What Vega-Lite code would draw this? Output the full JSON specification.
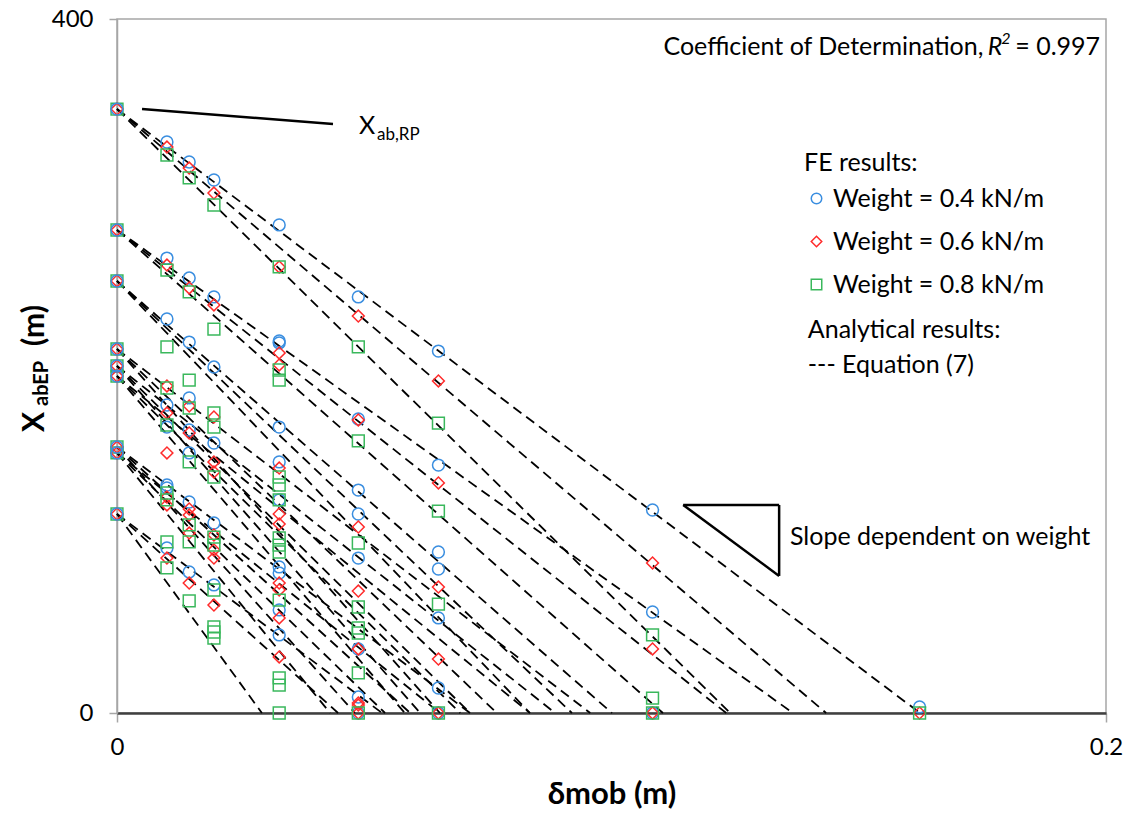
{
"$schema":"https://vega.github.io/schema/vega-lite/v6.json",
"width":989,"height":694,
"autosize":{"type":"none"},
"padding":{"left":117,"top":19,"right":25,"bottom":100},
"config":{"font":"Lato","view":{"stroke":"#a6a6a6","strokeWidth":1.5},"text":{"font":"Lato","color":"black"}},
"datasets":{
"lines":[
{"id":"A1","x":0,"y":348.1},{"id":"A1","x":0.1624,"y":0},
{"id":"A2","x":0,"y":348.1},{"id":"A2","x":0.1434,"y":0},
{"id":"A3","x":0,"y":348.1},{"id":"A3","x":0.1240,"y":0},
{"id":"B1","x":0,"y":278.4},{"id":"B1","x":0.1367,"y":0},
{"id":"B2","x":0,"y":278.4},{"id":"B2","x":0.1232,"y":0},
{"id":"B3","x":0,"y":278.4},{"id":"B3","x":0.1104,"y":0},
{"id":"C1","x":0,"y":249.0},{"id":"C1","x":0.1001,"y":0},
{"id":"C2","x":0,"y":249.0},{"id":"C2","x":0.0920,"y":0},
{"id":"C3","x":0,"y":249.0},{"id":"C3","x":0.0835,"y":0},
{"id":"D1","x":0,"y":209.8},{"id":"D1","x":0.0957,"y":0},
{"id":"D2","x":0,"y":209.8},{"id":"D2","x":0.0768,"y":0},
{"id":"D3","x":0,"y":209.8},{"id":"D3","x":0.0653,"y":0},
{"id":"E1","x":0,"y":200.0},{"id":"E1","x":0.0886,"y":0},
{"id":"E2","x":0,"y":200.0},{"id":"E2","x":0.0714,"y":0},
{"id":"E3","x":0,"y":200.0},{"id":"E3","x":0.0613,"y":0},
{"id":"F1","x":0,"y":194.2},{"id":"F1","x":0.0835,"y":0},
{"id":"F2","x":0,"y":194.2},{"id":"F2","x":0.0694,"y":0},
{"id":"F3","x":0,"y":194.2},{"id":"F3","x":0.0582,"y":0},
{"id":"G1","x":0,"y":153.3},{"id":"G1","x":0.0714,"y":0},
{"id":"G2","x":0,"y":153.3},{"id":"G2","x":0.0593,"y":0},
{"id":"G3","x":0,"y":153.3},{"id":"G3","x":0.0481,"y":0},
{"id":"H1","x":0,"y":149.9},{"id":"H1","x":0.0653,"y":0},
{"id":"H2","x":0,"y":149.9},{"id":"H2","x":0.0542,"y":0},
{"id":"H3","x":0,"y":149.9},{"id":"H3","x":0.0431,"y":0},
{"id":"I1","x":0,"y":114.7},{"id":"I1","x":0.0536,"y":0},
{"id":"I2","x":0,"y":114.7},{"id":"I2","x":0.0447,"y":0},
{"id":"I3","x":0,"y":114.7},{"id":"I3","x":0.0293,"y":0}
],
"points":[
{"x":0,"y":348.1,"w":"0.8"},{"x":0,"y":278.4,"w":"0.8"},{"x":0,"y":249.0,"w":"0.8"},{"x":0,"y":209.8,"w":"0.8"},{"x":0,"y":200.0,"w":"0.8"},{"x":0,"y":194.2,"w":"0.8"},{"x":0,"y":153.3,"w":"0.8"},{"x":0,"y":149.9,"w":"0.8"},{"x":0,"y":114.7,"w":"0.8"},
{"x":0,"y":348.1,"w":"0.6"},{"x":0,"y":278.4,"w":"0.6"},{"x":0,"y":249.0,"w":"0.6"},{"x":0,"y":209.8,"w":"0.6"},{"x":0,"y":200.0,"w":"0.6"},{"x":0,"y":194.2,"w":"0.6"},{"x":0,"y":153.3,"w":"0.6"},{"x":0,"y":149.9,"w":"0.6"},{"x":0,"y":114.7,"w":"0.6"},
{"x":0,"y":348.1,"w":"0.4"},{"x":0,"y":278.4,"w":"0.4"},{"x":0,"y":249.0,"w":"0.4"},{"x":0,"y":209.8,"w":"0.4"},{"x":0,"y":200.0,"w":"0.4"},{"x":0,"y":194.2,"w":"0.4"},{"x":0,"y":153.3,"w":"0.4"},{"x":0,"y":149.9,"w":"0.4"},{"x":0,"y":114.7,"w":"0.4"},
{"x":0.0101,"y":329.1,"w":"0.4"},{"x":0.0101,"y":262.2,"w":"0.4"},{"x":0.0101,"y":227.1,"w":"0.4"},{"x":0.0101,"y":177.5,"w":"0.4"},{"x":0.0101,"y":164.8,"w":"0.4"},{"x":0.0101,"y":131.4,"w":"0.4"},{"x":0.0101,"y":129.7,"w":"0.4"},{"x":0.0101,"y":95.1,"w":"0.4"},
{"x":0.0101,"y":326.2,"w":"0.6"},{"x":0.0101,"y":258.2,"w":"0.6"},{"x":0.0101,"y":188.5,"w":"0.6"},{"x":0.0101,"y":172.9,"w":"0.6"},{"x":0.0101,"y":149.9,"w":"0.6"},{"x":0.0101,"y":124.5,"w":"0.6"},{"x":0.0101,"y":119.9,"w":"0.6"},{"x":0.0101,"y":89.3,"w":"0.6"},
{"x":0.0101,"y":321.6,"w":"0.8"},{"x":0.0101,"y":255.3,"w":"0.8"},{"x":0.0101,"y":211.0,"w":"0.8"},{"x":0.0101,"y":187.3,"w":"0.8"},{"x":0.0101,"y":166.0,"w":"0.8"},{"x":0.0101,"y":126.8,"w":"0.8"},{"x":0.0101,"y":122.8,"w":"0.8"},{"x":0.0101,"y":98.6,"w":"0.8"},{"x":0.0101,"y":83.6,"w":"0.8"},
{"x":0.0146,"y":317.6,"w":"0.4"},{"x":0.0146,"y":250.7,"w":"0.4"},{"x":0.0146,"y":213.8,"w":"0.4"},{"x":0.0146,"y":181.6,"w":"0.4"},{"x":0.0146,"y":163.1,"w":"0.4"},{"x":0.0146,"y":149.9,"w":"0.4"},{"x":0.0146,"y":121.6,"w":"0.4"},{"x":0.0146,"y":81.3,"w":"0.4"},
{"x":0.0146,"y":314.1,"w":"0.6"},{"x":0.0146,"y":245.0,"w":"0.6"},{"x":0.0146,"y":176.9,"w":"0.6"},{"x":0.0146,"y":161.4,"w":"0.6"},{"x":0.0146,"y":117.6,"w":"0.6"},{"x":0.0146,"y":114.1,"w":"0.6"},{"x":0.0146,"y":103.7,"w":"0.6"},{"x":0.0146,"y":74.9,"w":"0.6"},
{"x":0.0146,"y":308.4,"w":"0.8"},{"x":0.0146,"y":242.7,"w":"0.8"},{"x":0.0146,"y":191.9,"w":"0.8"},{"x":0.0146,"y":175.8,"w":"0.8"},{"x":0.0146,"y":144.7,"w":"0.8"},{"x":0.0146,"y":108.4,"w":"0.8"},{"x":0.0146,"y":98.6,"w":"0.8"},{"x":0.0146,"y":64.6,"w":"0.8"},
{"x":0.0196,"y":307.2,"w":"0.4"},{"x":0.0196,"y":239.8,"w":"0.4"},{"x":0.0196,"y":199.4,"w":"0.4"},{"x":0.0196,"y":155.6,"w":"0.4"},{"x":0.0196,"y":109.5,"w":"0.4"},{"x":0.0196,"y":73.8,"w":"0.4"},
{"x":0.0196,"y":299.7,"w":"0.6"},{"x":0.0196,"y":235.2,"w":"0.6"},{"x":0.0196,"y":170.6,"w":"0.6"},{"x":0.0196,"y":144.7,"w":"0.6"},{"x":0.0196,"y":138.9,"w":"0.6"},{"x":0.0196,"y":102.6,"w":"0.6"},{"x":0.0196,"y":94.0,"w":"0.6"},{"x":0.0196,"y":89.3,"w":"0.6"},{"x":0.0196,"y":62.2,"w":"0.6"},
{"x":0.0196,"y":292.8,"w":"0.8"},{"x":0.0196,"y":221.3,"w":"0.8"},{"x":0.0196,"y":172.9,"w":"0.8"},{"x":0.0196,"y":164.8,"w":"0.8"},{"x":0.0196,"y":136.0,"w":"0.8"},{"x":0.0196,"y":101.4,"w":"0.8"},{"x":0.0196,"y":96.8,"w":"0.8"},{"x":0.0196,"y":70.9,"w":"0.8"},{"x":0.0196,"y":49.6,"w":"0.8"},{"x":0.0196,"y":46.7,"w":"0.8"},{"x":0.0196,"y":43.2,"w":"0.8"},
{"x":0.0328,"y":281.3,"w":"0.4"},{"x":0.0328,"y":214.4,"w":"0.4"},{"x":0.0328,"y":213.3,"w":"0.4"},{"x":0.0328,"y":164.8,"w":"0.4"},{"x":0.0328,"y":144.7,"w":"0.4"},{"x":0.0328,"y":122.8,"w":"0.4"},{"x":0.0328,"y":84.2,"w":"0.4"},{"x":0.0328,"y":80.7,"w":"0.4"},{"x":0.0328,"y":59.4,"w":"0.4"},{"x":0.0328,"y":45.0,"w":"0.4"},
{"x":0.0328,"y":257.1,"w":"0.6"},{"x":0.0328,"y":207.5,"w":"0.6"},{"x":0.0328,"y":200.6,"w":"0.6"},{"x":0.0328,"y":141.2,"w":"0.6"},{"x":0.0328,"y":114.7,"w":"0.6"},{"x":0.0328,"y":108.9,"w":"0.6"},{"x":0.0328,"y":74.9,"w":"0.6"},{"x":0.0328,"y":70.9,"w":"0.6"},{"x":0.0328,"y":54.8,"w":"0.6"},{"x":0.0328,"y":32.3,"w":"0.6"},
{"x":0.0328,"y":257.1,"w":"0.8"},{"x":0.0328,"y":197.7,"w":"0.8"},{"x":0.0328,"y":191.9,"w":"0.8"},{"x":0.0328,"y":136.0,"w":"0.8"},{"x":0.0328,"y":131.4,"w":"0.8"},{"x":0.0328,"y":122.8,"w":"0.8"},{"x":0.0328,"y":100.9,"w":"0.8"},{"x":0.0328,"y":96.8,"w":"0.8"},{"x":0.0328,"y":92.8,"w":"0.8"},{"x":0.0328,"y":65.1,"w":"0.8"},{"x":0.0328,"y":20.2,"w":"0.8"},{"x":0.0328,"y":16.1,"w":"0.8"},{"x":0.0328,"y":0,"w":"0.8"},
{"x":0.0488,"y":239.8,"w":"0.4"},{"x":0.0488,"y":169.5,"w":"0.4"},{"x":0.0488,"y":128.5,"w":"0.4"},{"x":0.0488,"y":114.7,"w":"0.4"},{"x":0.0488,"y":89.3,"w":"0.4"},{"x":0.0488,"y":36.9,"w":"0.4"},{"x":0.0488,"y":9.2,"w":"0.4"},{"x":0.0488,"y":0,"w":"0.4"},
{"x":0.0488,"y":228.8,"w":"0.6"},{"x":0.0488,"y":168.9,"w":"0.6"},{"x":0.0488,"y":107.2,"w":"0.6"},{"x":0.0488,"y":70.3,"w":"0.6"},{"x":0.0488,"y":36.9,"w":"0.6"},{"x":0.0488,"y":5.8,"w":"0.6"},{"x":0.0488,"y":4.6,"w":"0.6"},{"x":0.0488,"y":0,"w":"0.6"},
{"x":0.0488,"y":211.0,"w":"0.8"},{"x":0.0488,"y":156.8,"w":"0.8"},{"x":0.0488,"y":98.0,"w":"0.8"},{"x":0.0488,"y":61.1,"w":"0.8"},{"x":0.0488,"y":49.0,"w":"0.8"},{"x":0.0488,"y":46.1,"w":"0.8"},{"x":0.0488,"y":23.1,"w":"0.8"},{"x":0.0488,"y":0,"w":"0.8"},
{"x":0.065,"y":208.6,"w":"0.4"},{"x":0.065,"y":142.9,"w":"0.4"},{"x":0.065,"y":92.8,"w":"0.4"},{"x":0.065,"y":83.0,"w":"0.4"},{"x":0.065,"y":54.8,"w":"0.4"},{"x":0.065,"y":14.4,"w":"0.4"},{"x":0.065,"y":0,"w":"0.4"},
{"x":0.065,"y":191.4,"w":"0.6"},{"x":0.065,"y":132.6,"w":"0.6"},{"x":0.065,"y":72.6,"w":"0.6"},{"x":0.065,"y":31.1,"w":"0.6"},{"x":0.065,"y":0,"w":"0.6"},
{"x":0.065,"y":167.1,"w":"0.8"},{"x":0.065,"y":116.4,"w":"0.8"},{"x":0.065,"y":62.8,"w":"0.8"},{"x":0.065,"y":0,"w":"0.8"},
{"x":0.1083,"y":117.0,"w":"0.4"},{"x":0.1083,"y":58.2,"w":"0.4"},{"x":0.1083,"y":0,"w":"0.4"},
{"x":0.1083,"y":86.5,"w":"0.6"},{"x":0.1083,"y":36.9,"w":"0.6"},{"x":0.1083,"y":0,"w":"0.6"},
{"x":0.1083,"y":45.0,"w":"0.8"},{"x":0.1083,"y":8.6,"w":"0.8"},{"x":0.1083,"y":0,"w":"0.8"},
{"x":0.1623,"y":3.5,"w":"0.4"},{"x":0.1623,"y":0,"w":"0.6"},{"x":0.1623,"y":0,"w":"0.8"}
]},
"layer":[
{"data":{"name":"lines"},
 "mark":{"type":"line","color":"black","strokeWidth":1.8,"strokeDash":[10,6]},
 "encoding":{
  "x":{"field":"x","type":"quantitative","scale":{"domain":[0,0.2],"nice":false,"zero":false},
   "axis":{"values":[0,0.2],"labelExpr":"datum.value == 0 ? '0' : '0.2'","grid":false,"domainColor":"#404040","domainWidth":2.5,"tickColor":"#a6a6a6","tickWidth":1.5,"tickSize":9,"labelFontSize":24,"labelColor":"black","labelPadding":13,"labelFlush":false,"title":"δmob (m)","titleFontSize":31,"titleFontWeight":"bold","titleColor":"black","titlePadding":20}},
  "y":{"field":"y","type":"quantitative","scale":{"domain":[0,400],"nice":false},
   "axis":{"values":[0,400],"grid":false,"domainColor":"#a6a6a6","domainWidth":1.5,"tickColor":"#a6a6a6","tickWidth":1.5,"tickSize":8,"labelFontSize":24,"labelColor":"black","labelPadding":16,"labelFlush":false,"title":null}},
  "detail":{"field":"id"}}},
{"data":{"name":"points"},
 "mark":{"type":"point","filled":false,"strokeWidth":1.5,"size":140,"opacity":1},
 "encoding":{
  "x":{"field":"x","type":"quantitative"},
  "y":{"field":"y","type":"quantitative"},
  "color":{"field":"w","type":"nominal","scale":{"domain":["0.4","0.6","0.8"],"range":["#3a8ee0","#ff2b2b","#3ab85c"]},
   "legend":{"title":"FE results:","orient":"none","legendX":687,"legendY":132,"labelExpr":"'Weight = ' + datum.label + ' kN/m'","labelLimit":0,"titleLimit":0,"titleFontSize":25,"titleFontWeight":"normal","titleColor":"black","titleFont":"Lato","labelFontSize":25,"labelFont":"Lato","labelColor":"black","titlePadding":10,"rowPadding":17,"symbolSize":110,"symbolStrokeWidth":1.5,"labelOffset":4}},
  "shape":{"field":"w","type":"nominal","scale":{"domain":["0.4","0.6","0.8"],"range":["circle","diamond","square"]},
   "legend":{"title":"FE results:","orient":"none","legendX":687,"legendY":132,"labelExpr":"'Weight = ' + datum.label + ' kN/m'","labelLimit":0,"titleLimit":0,"titleFontSize":25,"titleFontWeight":"normal","titleColor":"black","titleFont":"Lato","labelFontSize":25,"labelFont":"Lato","labelColor":"black","titlePadding":10,"rowPadding":17,"symbolSize":110,"symbolStrokeWidth":1.5,"labelOffset":4}}}},
{"data":{"values":[{}]},"mark":{"type":"rule","color":"black","strokeWidth":2.5},
 "encoding":{"x":{"datum":0.00506},"y":{"datum":348.1},"x2":{"datum":0.04368},"y2":{"datum":339.5}}},
{"data":{"values":[{}]},"mark":{"type":"rule","color":"black","strokeWidth":2.5},
 "encoding":{"x":{"datum":0.1145},"y":{"datum":119.9},"x2":{"datum":0.1339},"y2":{"datum":119.9}}},
{"data":{"values":[{}]},"mark":{"type":"rule","color":"black","strokeWidth":2.5},
 "encoding":{"x":{"datum":0.1339},"y":{"datum":119.9},"x2":{"datum":0.1339},"y2":{"datum":79.0}}},
{"data":{"values":[{}]},"mark":{"type":"rule","color":"black","strokeWidth":2.5},
 "encoding":{"x":{"datum":0.1145},"y":{"datum":119.9},"x2":{"datum":0.1339},"y2":{"datum":79.0}}},
{"data":{"values":[{}]},"mark":{"type":"text","text":"X","fontSize":25,"align":"left","baseline":"middle"},
 "encoding":{"x":{"datum":0.04894},"y":{"datum":338.3}}},
{"data":{"values":[{}]},"mark":{"type":"text","text":"ab,RP","fontSize":17,"align":"left","baseline":"middle"},
 "encoding":{"x":{"datum":0.05258},"y":{"datum":333.4}}},
{"data":{"values":[{}]},"mark":{"type":"text","text":"Slope dependent on weight","fontSize":25,"align":"left","baseline":"middle"},
 "encoding":{"x":{"datum":0.1361},"y":{"datum":101.4}}},
{"data":{"values":[{}]},"mark":{"type":"text","text":"Coefficient of Determination,","fontSize":25,"align":"right","baseline":"middle"},
 "encoding":{"x":{"datum":0.1752},"y":{"datum":383.9}}},
{"data":{"values":[{}]},"mark":{"type":"text","text":"R","fontSize":25,"fontStyle":"italic","align":"left","baseline":"middle"},
 "encoding":{"x":{"datum":0.1761},"y":{"datum":383.9}}},
{"data":{"values":[{}]},"mark":{"type":"text","text":"2","fontSize":16,"fontStyle":"italic","align":"left","baseline":"middle"},
 "encoding":{"x":{"datum":0.1788},"y":{"datum":388.2}}},
{"data":{"values":[{}]},"mark":{"type":"text","text":"= 0.997","fontSize":25,"align":"right","baseline":"middle"},
 "encoding":{"x":{"datum":0.1988},"y":{"datum":383.9}}},
{"data":{"values":[{}]},"mark":{"type":"text","text":"Analytical results:","fontSize":25,"align":"left","baseline":"middle"},
 "encoding":{"x":{"datum":0.1397},"y":{"datum":220.8}}},
{"data":{"values":[{}]},"mark":{"type":"text","text":"--- Equation (7)","fontSize":25,"align":"left","baseline":"middle"},
 "encoding":{"x":{"datum":0.1397},"y":{"datum":200.6}}},
{"data":{"values":[{}]},"mark":{"type":"text","text":"X","fontSize":30,"fontWeight":"bold","angle":270,"align":"left","baseline":"middle"},
 "encoding":{"x":{"datum":-0.01658},"y":{"datum":162.0}}},
{"data":{"values":[{}]},"mark":{"type":"text","text":"abEP","fontSize":20,"fontWeight":"bold","angle":270,"align":"left","baseline":"middle"},
 "encoding":{"x":{"datum":-0.01517},"y":{"datum":177.0}}},
{"data":{"values":[{}]},"mark":{"type":"text","text":"(m)","fontSize":30,"fontWeight":"bold","angle":270,"align":"left","baseline":"middle"},
 "encoding":{"x":{"datum":-0.01658},"y":{"datum":211.5}}}
]
}
